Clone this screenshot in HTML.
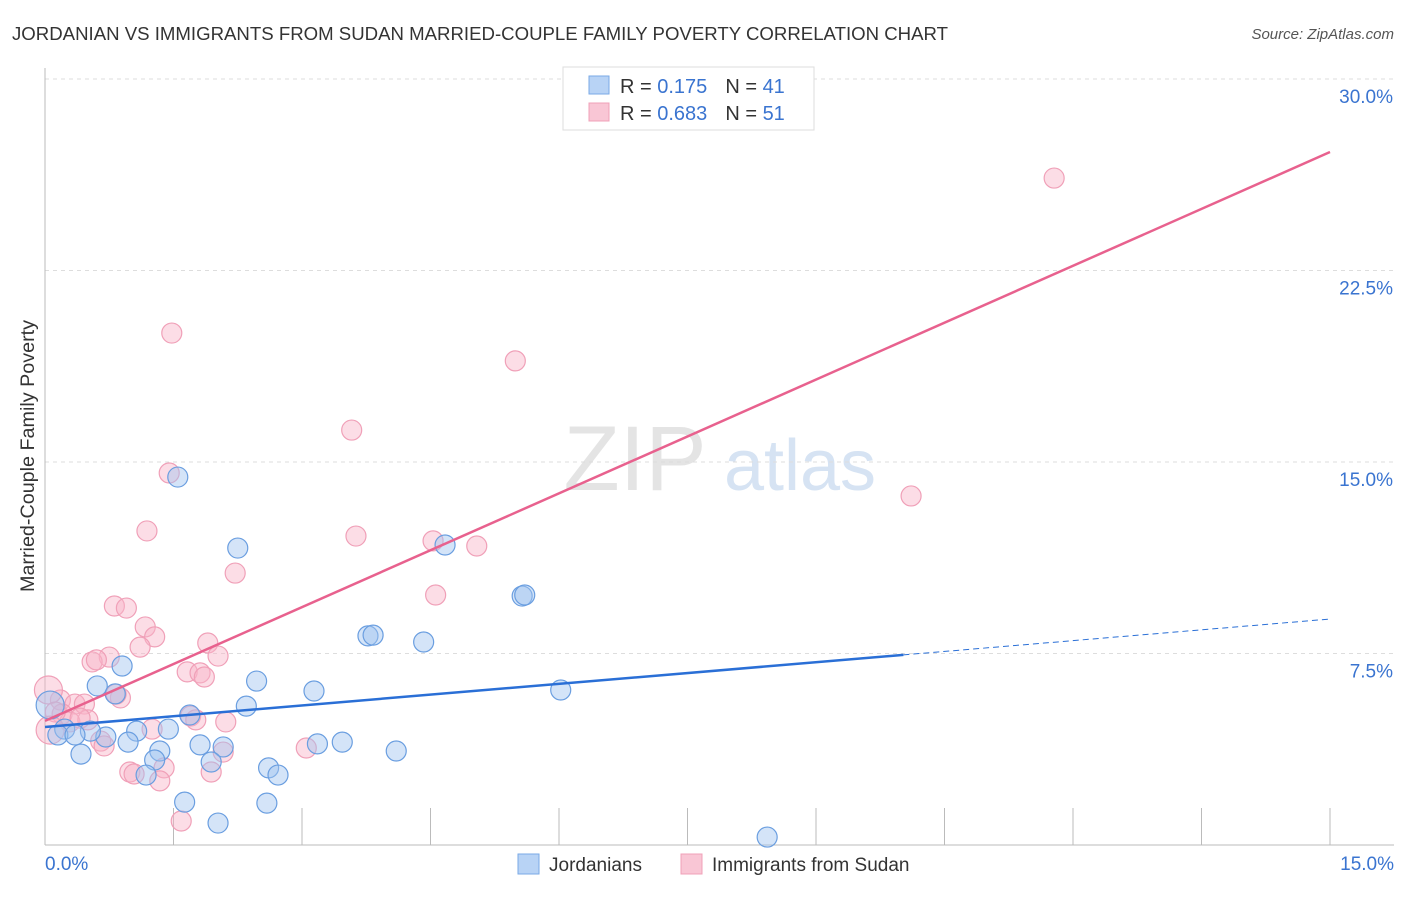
<!DOCTYPE html>
<html><head><meta charset="utf-8"><style>
body{margin:0;background:#fff;font-family:"Liberation Sans",sans-serif;}
svg text{font-family:"Liberation Sans",sans-serif;}
</style></head><body>
<svg id="chart" width="1406" height="892" xmlns="http://www.w3.org/2000/svg">
<text x="12" y="40" font-size="18" fill="#333" textLength="936" lengthAdjust="spacingAndGlyphs">JORDANIAN VS IMMIGRANTS FROM SUDAN MARRIED-COUPLE FAMILY POVERTY CORRELATION CHART</text>
<text x="1394" y="39" font-size="15" fill="#555" font-style="italic" text-anchor="end">Source: ZipAtlas.com</text>
<text x="34" y="456" font-size="19" fill="#333" text-anchor="middle" textLength="272" lengthAdjust="spacingAndGlyphs" transform="rotate(-90 34 456)">Married-Couple Family Poverty</text>
<g>
<text x="635" y="490" font-size="92" fill="#e4e4e4" font-family="Liberation Serif" text-anchor="middle">ZIP</text>
<text x="800" y="490" font-size="72" fill="#d6e3f3" text-anchor="middle">atlas</text>
</g>
<g id="grid"></g>
<g id="axes"></g>
<g id="marks"></g>
<g>
<rect x="563" y="67" width="251" height="63" fill="#fff" stroke="#ddd"/>
<rect x="589" y="76" width="20" height="18" fill="#b8d3f5" stroke="#7aaae6"/>
<rect x="589" y="103" width="20" height="18" fill="#f9c6d5" stroke="#f0a0b8"/>
<text x="620" y="93" font-size="20" fill="#333">R = <tspan fill="#3a74d0"> 0.175</tspan><tspan dx="18">N = </tspan><tspan fill="#3a74d0">41</tspan></text>
<text x="620" y="120" font-size="20" fill="#333">R = <tspan fill="#3a74d0">0.683</tspan><tspan dx="18">N = </tspan><tspan fill="#3a74d0">51</tspan></text>
</g>
<g>
<rect x="518" y="854" width="21" height="20" fill="#b8d3f5" stroke="#7aaae6"/>
<text x="549" y="871" font-size="19" fill="#333">Jordanians</text>
<rect x="681" y="854" width="21" height="20" fill="#f9c6d5" stroke="#f0a0b8"/>
<text x="712" y="871" font-size="19" fill="#333">Immigrants from Sudan</text>
</g>
</svg>
<script>
const blueX=[1.55,2.25,4.67,5.57,5.60,0.90,0.61,0.82,2.47,3.14,6.02,3.77,3.83,4.42,2.35,1.69,1.44,1.07,0.71,0.53,0.23,0.15,0.06,0.42,0.97,1.34,1.28,1.81,2.08,1.94,2.61,2.72,1.18,3.18,3.47,4.10,1.63,2.59,2.02,8.43,0.35];
const blueY=[14.41,11.63,11.75,9.75,9.79,7.01,6.23,5.92,6.42,6.03,6.07,8.19,8.22,7.95,5.44,5.09,4.54,4.46,4.23,4.46,4.54,4.31,5.48,3.56,4.03,3.68,3.33,3.92,3.84,3.25,3.02,2.74,2.74,3.96,4.03,3.68,1.68,1.64,0.86,0.31,4.31];
const pinkX=[11.78,1.48,5.49,3.58,1.45,10.11,1.19,3.63,4.53,5.04,2.22,4.56,0.81,0.95,1.17,1.28,1.11,1.90,2.02,0.75,0.55,0.60,1.66,1.81,1.86,0.88,0.83,1.70,1.76,2.11,0.18,0.35,0.46,0.20,0.29,0.50,0.04,0.65,0.69,1.25,2.08,3.05,0.99,1.04,1.39,1.34,1.94,1.59,0.12,0.41,0.06];
const pinkY=[26.12,20.05,18.96,16.25,14.57,13.67,12.30,12.10,11.91,11.71,10.65,9.79,9.36,9.28,8.54,8.15,7.75,7.91,7.40,7.36,7.17,7.25,6.78,6.74,6.58,5.76,5.91,5.05,4.90,4.82,5.68,5.52,5.52,5.13,4.82,4.90,6.07,4.07,3.88,4.54,3.64,3.80,2.86,2.78,3.02,2.51,2.86,0.94,5.21,4.97,4.50];
const blueTrend=[4.62,8.85]; // y at x=0 and x=15
const pinkTrend=[4.86,27.14];
const yTicks=[7.5,15,22.5,30];
const yTickLabels=["7.5%","15.0%","22.5%","30.0%"];
const xTicks=[0,1.5,3,4.5,6,7.5,9,10.5,12,13.5,15];
const NS="http://www.w3.org/2000/svg";
const sx=v=>45+v*(1285/15), sy=v=>845-v*(191.5/7.5);
function mk(tag,attrs,parent){const e=document.createElementNS(NS,tag);for(const k in attrs)e.setAttribute(k,attrs[k]);parent.appendChild(e);return e;}
const grid=document.getElementById('grid'),axes=document.getElementById('axes'),marks=document.getElementById('marks');
yTicks.forEach((t,i)=>{
 const l=mk('line',{x1:45,x2:1394,y1:sy(t),y2:sy(t),stroke:'#ddd','stroke-dasharray':'4,4'},grid);
 
 
 const tx=mk('text',{x:1393,y:sy(t)+24,'font-size':19,fill:'#3a74d0','text-anchor':'end'},axes);
 tx.textContent=yTickLabels[i];
 
 
});
const ya=mk('line',{x1:45,x2:45,y1:68,y2:845,stroke:'#bbb'},axes);


const xa=mk('line',{x1:45,x2:1394,y1:845,y2:845,stroke:'#bbb'},axes);


xTicks.forEach(t=>{
 const l=mk('line',{x1:sx(t),x2:sx(t),y1:808,y2:845,stroke:'#bbb'},axes);
 
 
});
const x0=mk('text',{x:45,y:870,'font-size':19,fill:'#3a74d0'},axes);x0.textContent="0.0%";


const x1=mk('text',{x:1394,y:870,'font-size':19,fill:'#3a74d0','text-anchor':'end'},axes);x1.textContent="15.0%";


function dots(X,Y,fill,stroke,name){X.forEach((x,i)=>{
 const r=(x<0.1)?14:10;
 const c=mk('circle',{cx:sx(x),cy:sy(Y[i]),r:r,fill:fill,stroke:stroke,'stroke-width':1.2},marks);
 
 
});}
dots(pinkX,pinkY,'rgba(248,180,200,0.45)','#f0a0b8','point-sudan');
dots(blueX,blueY,'rgba(160,196,240,0.45)','#6a9ee0','point-jordanian');
const bAt=x=>blueTrend[0]+(blueTrend[1]-blueTrend[0])*x/15;
const bl=mk('line',{x1:sx(0),y1:sy(bAt(0)),x2:sx(10.02),y2:sy(bAt(10.02)),stroke:'#2a6fd6','stroke-width':2.5},marks);


const bd=mk('line',{x1:sx(10.02),y1:sy(bAt(10.02)),x2:sx(15),y2:sy(bAt(15)),stroke:'#2a6fd6','stroke-width':1,'stroke-dasharray':'6,4'},marks);


const pl=mk('line',{x1:sx(0),y1:sy(pinkTrend[0]),x2:sx(15),y2:sy(pinkTrend[1]),stroke:'#e8618e','stroke-width':2.5},marks);


</script>
</body></html>
